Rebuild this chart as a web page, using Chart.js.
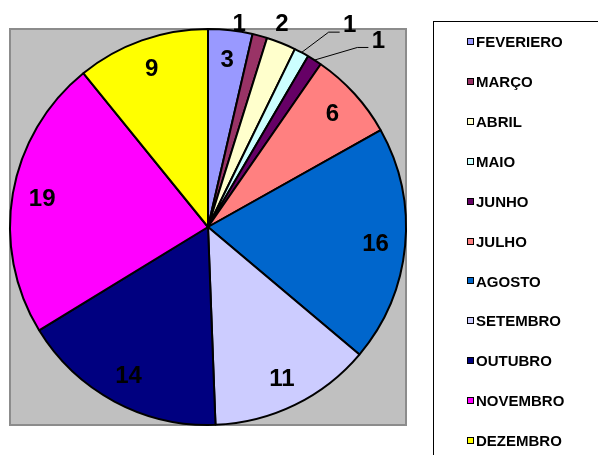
<!DOCTYPE html>
<html>
<head>
<meta charset="utf-8">
<script src="https://cdn.jsdelivr.net/npm/chart.js@4.4.1/dist/chart.umd.min.js"></script>
<style>
  html,body{margin:0;padding:0;background:#fff;}
  #wrap{width:598px;height:455px;position:relative;}
</style>
</head>
<body>
<div id="wrap"><canvas id="pie" width="598" height="455"></canvas></div>
<script>
// data
const months = ["FEVERIERO","MARÇO","ABRIL","MAIO","JUNHO","JULHO","AGOSTO","SETEMBRO","OUTUBRO","NOVEMBRO","DEZEMBRO"];
const counts = [3, 1, 2, 1, 1, 6, 16, 11, 14, 19, 9];
const colors = ["#9999FF","#993366","#FFFFCC","#CCFFFF","#660066","#FF8080","#0066CC","#CCCCFF","#000080","#FF00FF","#FFFF00"];

// label placement for the thin slices (angle shift in degrees, gap outside the rim in px)
const outside = {
  1: {shift:-6.5, gap:8},
  2: {shift:-1.8, gap:19},
  3: {shift:6.8,  gap:49, leader:true},
  4: {shift:9.8,  gap:55, leader:true}
};
const FONT = "'Liberation Sans', Arial, sans-serif";

const decor = {
  id: "decor",
  beforeDatasetsDraw(chart){
    const c = chart.ctx, a = chart.getDatasetMeta(0).data[0];
    if(!a) return;
    const r = a.outerRadius;
    c.save();
    c.fillStyle = "#C0C0C0";
    c.fillRect(a.x - r, a.y - r, 2*r, 2*r);
    c.strokeStyle = "#8C8C8C"; c.lineWidth = 2;
    c.strokeRect(a.x - r, a.y - r, 2*r, 2*r);
    c.restore();
  },
  afterDatasetsDraw(chart){
    const c = chart.ctx, arcs = chart.getDatasetMeta(0).data;
    c.save();
    c.fillStyle = "#000"; c.strokeStyle = "#000"; c.lineWidth = 1;
    c.font = "bold 24px " + FONT;
    c.textAlign = "center"; c.textBaseline = "middle";
    arcs.forEach((arc, i) => {
      const mid = (arc.startAngle + arc.endAngle)/2, R = arc.outerRadius;
      const o = outside[i];
      let x, y;
      if(o){
        const ang = mid + o.shift*Math.PI/180;
        x = arc.x + Math.cos(ang)*(R + o.gap);
        y = arc.y + Math.sin(ang)*(R + o.gap);
        if(o.leader){
          c.beginPath();
          c.moveTo(arc.x + Math.cos(mid)*R, arc.y + Math.sin(mid)*R);
          c.lineTo(x - 21, y + 7.5);
          c.lineTo(x - 10, y + 7.5);
          c.stroke();
        }
      }else{
        x = arc.x + Math.cos(mid)*R*0.85;
        y = arc.y + Math.sin(mid)*R*0.85;
      }
      c.fillText(String(counts[i]), x, y + 1);
    });
    c.restore();
  },
  afterDraw(chart){
    const c = chart.ctx;
    c.save();
    c.strokeStyle = "#000"; c.lineWidth = 1;
    c.strokeRect(433.5, 21.5, 200, 460);
    c.font = "bold 15px " + FONT;
    c.textAlign = "left"; c.textBaseline = "middle";
    months.forEach((m, i) => {
      const y = 42 + i*39.9;
      c.fillStyle = colors[i];
      c.fillRect(467, Math.round(y) - 4, 7, 7);
      c.strokeStyle = "#000";
      c.strokeRect(467.5, Math.round(y) - 3.5, 6, 6);
      c.fillStyle = "#000";
      c.fillText(m, 476, y + 1);
    });
    c.restore();
  }
};

new Chart(document.getElementById("pie"), {
  type: "pie",
  data: {
    labels: months,
    datasets: [{
      data: counts,
      backgroundColor: colors,
      borderColor: "#000",
      borderWidth: 2,
      radius: 198
    }]
  },
  options: {
    responsive: false,
    animation: false,
    layout: {padding: {left: 10, top: 29, right: 192, bottom: 30}},
    plugins: {legend: {display: false}, tooltip: {enabled: false}}
  },
  plugins: [decor]
});
</script>
</body>
</html>
